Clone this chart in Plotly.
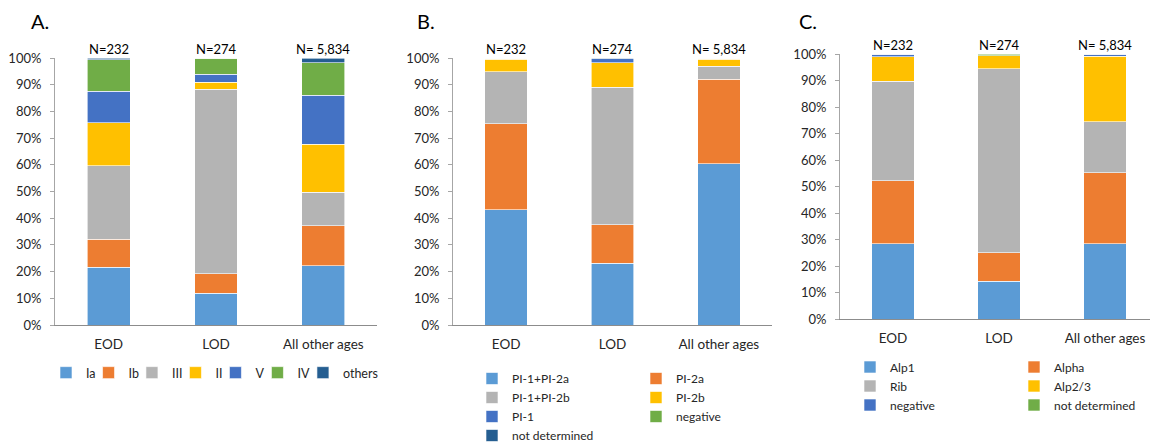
import plotly.graph_objects as go

categories = ["EOD", "LOD", "All other ages"]
n_labels = ["N=232", "N=274", "N= 5,834"]

# Panel A: serotypes (percent)
a_names = ["Ia", "Ib", "III", "II", "V", "IV", "others"]
a_values = [
    [21.7, 11.9, 22.2],
    [10.5, 7.3, 15.0],
    [27.5, 69.1, 12.6],
    [16.1, 2.7, 17.9],
    [11.8, 3.0, 18.4],
    [11.7, 6.0, 12.1],
    [0.7, 0.0, 1.8],
]

# Panel B: pilus islands (percent)
b_names = ["PI-1+PI-2a", "PI-2a", "PI-1+PI-2b", "PI-2b", "PI-1", "negative", "not determined"]
b_values = [
    [43.1, 23.2, 60.4],
    [32.3, 14.3, 31.6],
    [19.5, 51.5, 4.9],
    [4.6, 9.2, 2.6],
    [0.5, 1.6, 0.4],
    [0.0, 0.0, 0.0],
    [0.0, 0.2, 0.1],
]
b_legend_col = [2, 3, 2, 3, 2, 3, 2]

# Panel C: alpha-like proteins (percent)
c_names = ["Alp1", "Alpha", "Rib", "Alp2/3", "negative", "not determined"]
c_values = [
    [28.4, 14.3, 28.4],
    [23.7, 10.7, 26.8],
    [37.6, 69.5, 19.3],
    [9.3, 4.9, 24.7],
    [1.0, 0.0, 0.8],
    [0.0, 0.6, 0.0],
]
c_legend_col = [4, 5, 4, 5, 4, 5]

colors = ["#5B9BD5", "#ED7D31", "#B4B4B4", "#FFC000", "#4472C4", "#70AD47", "#255E91"]

FONT = "Lato"
TXT = "#262626"

fig = go.Figure()

def add_panel(names, values, xa, ya, legends):
    for i, (nm, vals) in enumerate(zip(names, values)):
        fig.add_trace(go.Bar(
            x=categories, y=[v / 100 for v in vals], name=nm,
            marker=dict(color=colors[i], line=dict(width=0.6, color="white")),
            xaxis=xa, yaxis=ya, legend=legends[i],
            width=0.4,
        ))

add_panel(a_names, a_values, "x", "y", ["legend"] * 7)
add_panel(b_names, b_values, "x2", "y2", ["legend%d" % k for k in b_legend_col])
add_panel(c_names, c_values, "x3", "y3", ["legend%d" % k for k in c_legend_col])

# page has an 8px body margin: figure is drawn 8px in from the window's top-left
OFF = 8
W, H = 1158 - OFF, 443 - OFF
def fx(px):
    return (px - OFF) / W
def fy(py):
    return (H - (py - OFF)) / H

xdoms = [(fx(55), fx(377)), (fx(453), fx(772)), (fx(840), fx(1158))]
ydoms = [(fy(325), fy(58)), (fy(325), fy(58)), (fy(319), fy(54))]

layout = dict(
    width=W, height=H, margin=dict(l=0, r=0, t=0, b=0, autoexpand=False),
    barmode="stack", plot_bgcolor="white", paper_bgcolor="white",
    font=dict(family=FONT, size=13, color=TXT),
    showlegend=True,
)
for k in range(3):
    sx = "" if k == 0 else str(k + 1)
    layout["xaxis" + sx] = dict(
        domain=list(xdoms[k]), anchor="y" + sx, showline=True, linecolor="#8C8C8C",
        linewidth=1, ticks="", showgrid=False, tickfont=dict(size=13.5, color=TXT),
        ticklabelstandoff=7, automargin=False,
    )
    layout["yaxis" + sx] = dict(
        domain=list(ydoms[k]), anchor="x" + sx, range=[0, 1], dtick=0.1,
        tickformat=".0%", showline=True, linecolor="#A6A6A6", linewidth=1,
        ticks="outside", ticklen=4, tickcolor="#A6A6A6", showgrid=False,
        zeroline=False, tickfont=dict(size=13, color=TXT), ticklabelstandoff=6,
        automargin=False,
    )

leg_common = dict(bgcolor="rgba(0,0,0,0)", font=dict(family=FONT, size=12.5, color=TXT),
                  xanchor="left", yanchor="top", indentation=-12, itemclick=False,
                  traceorder="normal")
leg_v_font = dict(family=FONT, size=12, color=TXT)
layout["legend"] = dict(leg_common, orientation="h", x=fx(58), y=fy(373), yanchor="middle")
layout["legend2"] = dict(leg_common, orientation="v", x=fx(484), y=fy(364), font=leg_v_font)
layout["legend3"] = dict(leg_common, orientation="v", x=fx(648), y=fy(364), font=leg_v_font)
layout["legend4"] = dict(leg_common, orientation="v", x=fx(862), y=fy(352.5), font=leg_v_font)
layout["legend5"] = dict(leg_common, orientation="v", x=fx(1026), y=fy(352.5), font=leg_v_font)
fig.update_layout(**layout)

# panel letters
for letter, px in [("A.", 40), ("B.", 426), ("C.", 808)]:
    fig.add_annotation(text=letter, x=fx(px), y=1, xref="paper", yref="paper",
                       showarrow=False, font=dict(size=20, family=FONT, color="#000"),
                       xanchor="center", yanchor="top", borderpad=0)

# N labels above bars
for k, (xr, yr) in enumerate([("x", "y"), ("x2", "y2"), ("x3", "y3")]):
    for cat, lab in zip(categories, n_labels):
        fig.add_annotation(text=lab, x=cat, y=1, xref=xr, yref=yr, showarrow=False,
                           yanchor="bottom", yshift=-1, font=dict(size=13, family=FONT, color="#000"))

fig.write_html("out.html")
